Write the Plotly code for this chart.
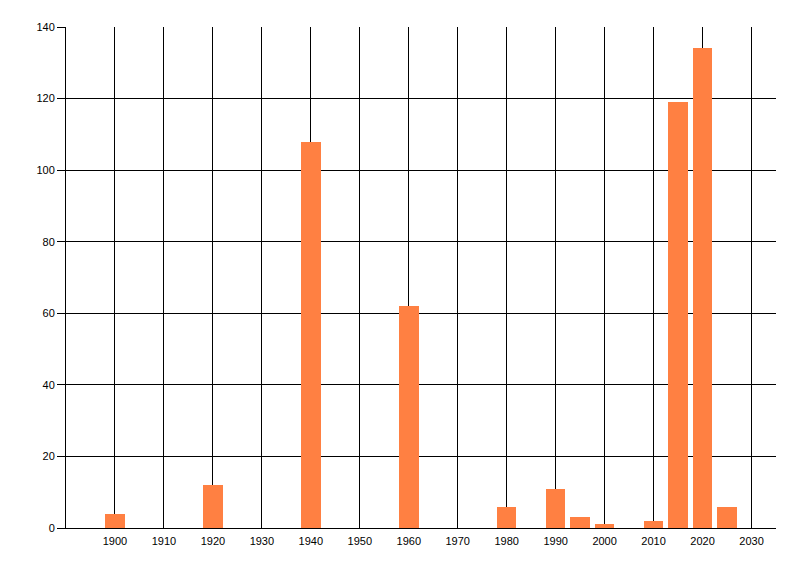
import plotly.graph_objects as go

years = [1900, 1920, 1940, 1960, 1980, 1990, 1995, 2000, 2010, 2015, 2020, 2025]
counts = [4, 12, 108, 62, 6, 11, 3, 1, 2, 119, 134, 6]
x_ticks = list(range(1900, 2031, 10))
y_ticks = list(range(0, 141, 20))

fig = go.Figure(go.Bar(x=years, y=counts, width=4, marker=dict(color="#FF8042", line=dict(width=0))))

fig.update_layout(
    width=800, height=576,
    margin=dict(l=58, r=32, t=19, b=56),
    paper_bgcolor="white", plot_bgcolor="white",
    font=dict(family="Liberation Sans, Arial, sans-serif", size=11, color="black"),
    showlegend=False,
    bargap=0,
)
fig.update_xaxes(
    range=[1890, 2035], tickmode="array", tickvals=x_ticks,
    ticktext=[str(v) for v in x_ticks],
    showgrid=True, gridcolor="black", gridwidth=1,
    showline=True, linecolor="black", linewidth=1,
    ticks="", zeroline=False, ticklabelstandoff=3,
)
fig.update_yaxes(
    range=[0, 140], tickmode="array", tickvals=y_ticks,
    showgrid=True, gridcolor="black", gridwidth=1,
    showline=True, linecolor="black", linewidth=1,
    ticks="outside", ticklen=8, tickcolor="black", zeroline=False,
)

fig.write_html("out.html")
